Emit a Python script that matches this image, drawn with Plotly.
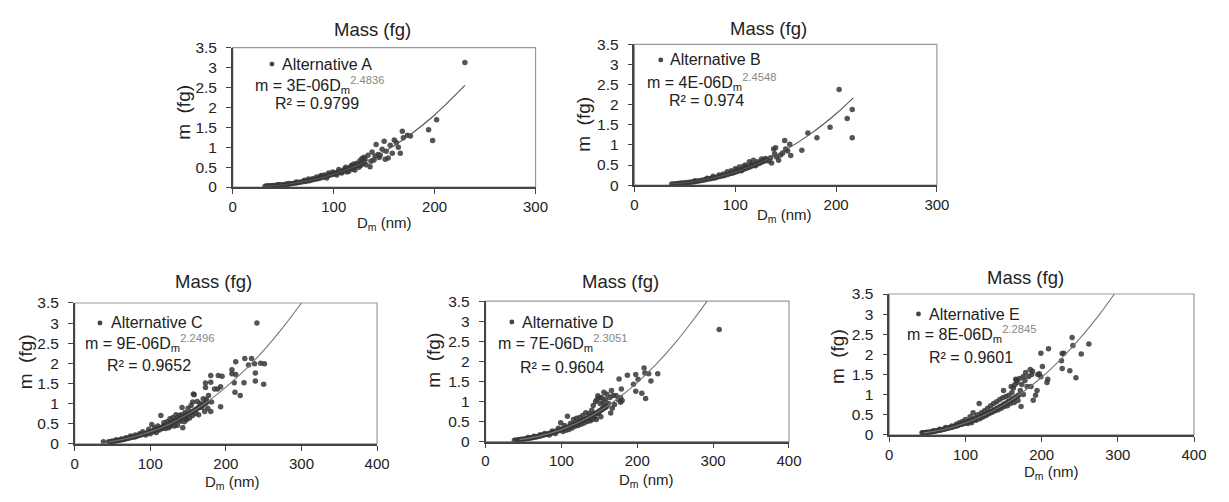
import plotly.graph_objects as go

W, H = 1229, 502
FONT = "Arial, Liberation Sans, sans-serif"

# ---------------- data ----------------
names = ["Alternative A", "Alternative B", "Alternative C", "Alternative D", "Alternative E"]
coef_text = ["3E-06", "4E-06", "9E-06", "7E-06", "8E-06"]
exp_text = ["2.4836", "2.4548", "2.2496", "2.3051", "2.2845"]
r2_text = ["0.9799", "0.974", "0.9652", "0.9604", "0.9601"]
x_max = [300, 300, 400, 400, 400]
x_ticks_A = [0, 100, 200, 300]
x_ticks_C = [0, 100, 200, 300, 400]
y_ticks = [0, 0.5, 1, 1.5, 2, 2.5, 3, 3.5]
y_tick_labels = ["0", "0.5", "1", "1.5", "2", "2.5", "3", "3.5"]

A_x = [32,34,36,38,40,42,44,46,48,50,52,54,56,58,60,62,64,66,68,70,72,74,76,78,80,82,84,86,88,90,92,94,96,98,100,102,104,106,108,110,112,114,116,118,120,122,124,126,128,130,
       45,55,63,71,75,79,83,87,88,91,93,95,97,99,101,103,105,107,108,111,112,113,115,117,118,119,120,121,123,125,126,127,128,130,131,132,134,136,137,138,140,141,142,144,145,146,148,150,151,152,154,156,158,160,162,164,166,168,169,173,176,194,198,202,230]
A_y = [0.02,0.03,0.03,0.035,0.04,0.04,0.05,0.05,0.06,0.06,0.07,0.07,0.08,0.09,0.09,0.10,0.11,0.12,0.13,0.14,0.14,0.16,0.16,0.18,0.19,0.20,0.21,0.22,0.24,0.25,0.27,0.28,0.30,0.31,0.33,0.34,0.36,0.38,0.40,0.41,0.43,0.45,0.47,0.49,0.51,0.53,0.55,0.57,0.60,0.62,
       0.06,0.09,0.13,0.17,0.20,0.21,0.25,0.28,0.29,0.30,0.23,0.35,0.33,0.38,0.36,0.30,0.44,0.40,0.35,0.46,0.50,0.38,0.40,0.52,0.55,0.45,0.58,0.43,0.60,0.50,0.66,0.55,0.72,0.75,0.70,0.56,0.80,0.51,0.65,0.88,0.68,0.78,1.07,0.82,0.74,0.80,0.95,1.15,0.70,0.90,0.73,1.05,0.85,1.18,1.12,1.00,0.85,1.40,1.24,1.30,1.28,1.44,1.17,1.69,3.13]
A_fit_x = [32,50,75,100,125,150,175,200,230]
A_fit_y = [0.020,0.058,0.158,0.324,0.563,0.883,1.30,1.81,2.55]

B_x = [37,39,41,43,45,47,49,51,53,55,57,59,61,63,65,67,69,71,73,75,77,79,81,83,85,87,89,91,93,95,97,99,101,103,105,107,109,111,113,115,117,119,121,123,125,127,129,131,
       60,72,78,84,88,92,96,98,100,102,104,106,108,110,112,114,116,118,120,122,124,126,128,130,133,135,136,138,139,140,141,143,145,147,149,150,152,154,155,166,172,181,194,203,211,216,216]
B_y = [0.03,0.03,0.035,0.04,0.045,0.05,0.055,0.06,0.065,0.07,0.08,0.085,0.09,0.10,0.11,0.12,0.13,0.14,0.15,0.16,0.17,0.18,0.19,0.21,0.22,0.23,0.24,0.26,0.27,0.29,0.30,0.32,0.33,0.35,0.37,0.38,0.40,0.42,0.44,0.46,0.48,0.50,0.52,0.54,0.56,0.58,0.60,0.63,
       0.11,0.17,0.22,0.25,0.28,0.33,0.36,0.31,0.41,0.38,0.45,0.36,0.47,0.50,0.45,0.58,0.52,0.62,0.48,0.58,0.55,0.65,0.62,0.66,0.60,0.68,0.55,0.90,0.78,0.93,0.70,0.62,0.75,0.80,1.11,0.90,0.85,1.02,0.74,0.87,1.30,1.18,1.44,2.38,1.66,1.18,1.88]
B_fit_x = [37,50,75,100,125,150,175,200,217]
B_fit_y = [0.029,0.059,0.160,0.324,0.561,0.877,1.28,1.776,2.17]

C_x = [45,47,49,51,53,55,57,59,61,63,65,67,69,71,73,75,77,79,81,83,85,87,89,91,93,95,97,99,101,103,105,107,109,111,113,115,117,119,121,123,125,127,129,131,133,135,137,139,141,143,145,147,149,151,153,155,157,159,161,163,165,167,169,171,173,175,
       38,55,62,68,74,80,86,90,94,98,100,102,104,106,108,110,112,114,116,118,120,122,124,126,128,130,132,134,136,138,
       140,142,143,146,148,150,152,154,156,158,160,162,164,166,168,170,172,174,176,173,173,177,181,180,180,185,189,180,190,193,
       195,193,208,208,213,211,213,212,219,224,225,230,234,239,239,238,241,246,250,251,157,156,148,145,135,128,118,125,132,141]
C_y = [0.05,0.05,0.06,0.06,0.07,0.07,0.08,0.09,0.10,0.10,0.11,0.12,0.13,0.14,0.15,0.16,0.17,0.17,0.18,0.19,0.21,0.22,0.23,0.24,0.25,0.26,0.28,0.29,0.30,0.32,0.33,0.34,0.36,0.37,0.39,0.40,0.42,0.44,0.45,0.47,0.49,0.51,0.53,0.54,0.56,0.58,0.60,0.62,0.64,0.66,0.68,0.70,0.73,0.75,0.77,0.79,0.81,0.84,0.86,0.89,0.91,0.94,0.96,0.99,1.01,1.04,
       0.05,0.10,0.12,0.15,0.19,0.22,0.25,0.30,0.22,0.36,0.25,0.48,0.30,0.40,0.28,0.44,0.34,0.70,0.38,0.52,0.38,0.55,0.40,0.62,0.45,0.65,0.44,0.72,0.46,0.70,
       0.56,0.90,0.40,0.78,0.60,0.88,0.64,0.95,0.70,1.22,0.76,1.05,0.72,1.00,0.90,1.12,0.80,1.10,0.88,1.40,1.51,1.20,1.04,0.80,1.53,1.36,1.36,1.70,1.70,0.92,
       1.68,1.42,1.74,1.84,2.04,1.52,1.72,1.28,1.20,1.52,2.12,1.96,2.12,1.56,1.76,1.99,3.00,2.00,1.48,1.99,1.24,1.04,0.64,0.55,0.60,0.52,0.45,0.42,0.58,0.72]
C_fit_x = [45,50,75,100,125,150,175,200,225,250,275,300]
C_fit_y = [0.049,0.062,0.155,0.296,0.488,0.737,1.04,1.41,1.83,2.32,2.88,3.5]

D_x = [40,42,44,46,48,50,52,54,56,58,60,62,64,66,68,70,72,74,76,78,80,82,84,86,88,90,92,94,96,98,100,102,104,106,108,110,112,114,116,118,120,122,124,126,128,130,132,134,136,138,140,142,144,146,148,150,152,154,156,158,160,
       38,56,64,72,78,84,88,92,96,99,102,104,106,108,110,112,114,116,118,120,122,124,126,128,130,132,134,136,138,140,
       141,142,144,145,146,147,148,149,150,151,152,153,154,155,156,157,158,160,162,164,165,166,167,168,170,172,175,176,179,178,
       187,195,198,198,201,206,209,210,211,215,218,227,308,178,180]
D_y = [0.03,0.04,0.045,0.05,0.055,0.06,0.065,0.07,0.08,0.085,0.09,0.10,0.105,0.11,0.12,0.13,0.14,0.15,0.16,0.17,0.18,0.19,0.20,0.21,0.22,0.23,0.25,0.26,0.27,0.28,0.30,0.31,0.33,0.34,0.35,0.37,0.38,0.40,0.42,0.44,0.45,0.47,0.49,0.51,0.53,0.54,0.56,0.58,0.60,0.62,0.65,0.67,0.69,0.71,0.73,0.76,0.78,0.80,0.83,0.85,0.88,
       0.03,0.10,0.13,0.17,0.20,0.16,0.26,0.20,0.33,0.47,0.25,0.40,0.28,0.63,0.30,0.45,0.34,0.55,0.38,0.58,0.40,0.60,0.43,0.65,0.46,0.72,0.50,0.70,0.52,0.78,
       0.55,0.90,0.60,1.00,0.55,1.05,1.14,0.70,1.10,0.95,0.62,1.10,0.82,1.00,1.23,0.90,1.05,1.18,0.95,1.10,0.71,1.27,0.83,1.15,0.92,1.15,1.05,1.56,1.31,0.98,
       1.65,1.43,1.67,1.25,1.55,1.20,1.83,1.71,1.07,1.69,1.51,1.69,2.79,1.10,1.02]
D_fit_x = [45,50,75,100,125,150,175,200,225,250,275,292]
D_fit_y = [0.047,0.060,0.153,0.297,0.497,0.756,1.079,1.468,1.926,2.458,3.06,3.5]

E_x = [44,46,48,50,52,54,56,58,60,62,64,66,68,70,72,74,76,78,80,82,84,86,88,90,92,94,96,98,100,102,104,106,108,110,112,114,116,118,120,122,124,126,128,130,132,134,136,138,140,142,144,146,148,150,152,154,156,158,160,162,164,166,168,170,
       43,58,66,74,82,88,92,96,100,103,106,108,110,112,114,116,118,119,121,123,125,127,129,131,133,135,137,139,141,143,
       145,147,149,150,151,153,155,157,159,160,161,163,164,165,166,167,168,169,171,172,173,174,176,178,179,181,183,185,187,188,
       189,192,194,197,199,199,201,207,208,209,226,227,227,229,237,240,241,245,252,262,186,176,195]
E_y = [0.045,0.05,0.055,0.06,0.065,0.07,0.075,0.085,0.09,0.10,0.105,0.115,0.12,0.13,0.14,0.15,0.16,0.17,0.18,0.19,0.20,0.21,0.22,0.23,0.25,0.26,0.27,0.28,0.30,0.31,0.33,0.34,0.35,0.37,0.38,0.40,0.42,0.43,0.45,0.47,0.48,0.50,0.52,0.54,0.56,0.58,0.60,0.62,0.64,0.66,0.68,0.70,0.72,0.75,0.77,0.79,0.82,0.84,0.86,0.89,0.91,0.94,0.96,0.99,
       0.05,0.10,0.14,0.18,0.22,0.26,0.30,0.33,0.38,0.28,0.45,0.30,0.55,0.42,0.36,0.50,0.78,0.40,0.55,0.44,0.60,0.48,0.66,0.52,0.72,0.56,0.78,0.60,0.82,0.62,
       0.88,0.66,0.92,1.10,0.70,0.95,0.72,0.98,0.78,1.20,1.05,1.16,0.80,1.25,1.38,1.36,1.30,0.85,1.40,1.10,0.70,1.25,1.00,1.35,1.55,1.20,1.45,1.62,1.50,1.58,
       0.86,0.98,1.10,1.52,1.44,2.03,1.70,1.30,1.38,2.14,1.84,2.02,1.65,2.03,1.59,2.42,2.22,1.42,2.01,2.26,1.20,1.45,1.50]
E_fit_x = [45,50,75,100,125,150,175,200,225,250,275,295.5]
E_fit_y = [0.0475,0.060,0.152,0.295,0.490,0.744,1.058,1.43,1.877,2.39,2.97,3.5]

# ---------------- layout geometry (pixels) ----------------
boxes = [(232, 539, 40, 184.3), (639.3, 946, 36.7, 182.3),
         (71.7, 378.3, 304.3, 450), (488.3, 796, 302.3, 447.7), (897.7, 1206.7, 295, 440.7)]
title_pos = [(374, 21), (775, 20), (212, 282), (625, 282), (1036, 278)]
xtitle_pos = [(386, 222), (791, 214), (232, 490), (652, 488), (1062, 480)]
ytitle_pos = [(182, 107), (588, 119), (22, 365), (436, 363), (845, 360)]
legend_pos = [(271.7, 57), (666, 52.7), (97.3, 325), (515, 324), (927.3, 315.7)]
legtext_x = [280, 673, 106, 523, 936]
eq_pos = [(252.7, 79), (650, 76), (80, 346), (499, 346), (913.3, 336)]
r2_pos = [(273, 98), (672.7, 95), (102.3, 369), (521, 371), (936, 360.3)]

def px(x):
    return x / W

def py(y):
    return 1 - y / H

series = [(A_x, A_y, A_fit_x, A_fit_y), (B_x, B_y, B_fit_x, B_fit_y),
          (C_x, C_y, C_fit_x, C_fit_y), (D_x, D_y, D_fit_x, D_fit_y),
          (E_x, E_y, E_fit_x, E_fit_y)]

fig = go.Figure()
layout = dict(width=W, height=H, margin=dict(l=0, r=0, t=0, b=0),
              paper_bgcolor="white", plot_bgcolor="white", showlegend=False,
              font=dict(family=FONT, color="#222"))
annotations = []
shapes = []

for i, (sx, sy, fx, fy) in enumerate(series):
    n = "" if i == 0 else str(i + 1)
    l, r, t, b = boxes[i]
    xt = x_ticks_A if x_max[i] == 300 else x_ticks_C
    layout["xaxis" + n] = dict(domain=[px(l), px(r)], range=[0, x_max[i]], anchor="y" + n,
                               tickmode="array", tickvals=xt, ticktext=[str(v) for v in xt],
                               ticks="outside", ticklen=5, tickcolor="#444", tickwidth=1.2,
                               showline=True, linecolor="#444", linewidth=1.5,
                               showgrid=False, zeroline=False,
                               tickfont=dict(size=15, family=FONT, color="#222"))
    layout["yaxis" + n] = dict(domain=[py(b), py(t)], range=[0, 3.5], anchor="x" + n,
                               tickmode="array", tickvals=y_ticks, ticktext=y_tick_labels,
                               ticks="outside", ticklen=5, tickcolor="#444", tickwidth=1.2,
                               showline=True, linecolor="#444", linewidth=1.5,
                               showgrid=False, zeroline=False, ticklabelstandoff=6,
                               tickfont=dict(size=15.5, family=FONT, color="#222"))
    xr = "x" + n
    yr = "y" + n
    fig.add_trace(go.Scatter(x=sx, y=sy, mode="markers", xaxis=xr, yaxis=yr,
                             marker=dict(size=5.5, color="rgba(55,55,55,0.85)", line=dict(width=0)),
                             name=names[i], cliponaxis=True))
    fig.add_trace(go.Scatter(x=fx, y=fy, mode="lines", xaxis=xr, yaxis=yr,
                             line=dict(color="#555" if i < 2 else "#777", width=1.1, shape="spline"),
                             hoverinfo="skip", cliponaxis=True))
    shapes.append(dict(type="rect", xref=xr + " domain", yref=yr + " domain",
                       x0=0, x1=1, y0=0, y1=1, line=dict(color="#999", width=1.2), layer="below"))
    lx, ly = legend_pos[i]
    shapes.append(dict(type="circle", xref="paper", yref="paper",
                       x0=px(lx - 2.5), x1=px(lx + 2.5), y0=py(ly + 2.5), y1=py(ly - 2.5),
                       fillcolor="#444", line=dict(width=0)))
    annotations.append(dict(text=names[i], x=px(legtext_x[i]), y=py(ly), xref="paper", yref="paper",
                            xanchor="left", yanchor="middle", showarrow=False,
                            font=dict(size=16, family=FONT, color="#222")))
    ex, ey = eq_pos[i]
    annotations.append(dict(text="m = " + coef_text[i] + "D<sub>m</sub><sup><span style='color:#888'>" + exp_text[i] + "</span></sup>",
                            x=px(ex), y=py(ey), xref="paper", yref="paper",
                            xanchor="left", yanchor="middle", showarrow=False,
                            font=dict(size=16, family=FONT, color="#222")))
    rx, ry = r2_pos[i]
    annotations.append(dict(text="R² = " + r2_text[i], x=px(rx), y=py(ry), xref="paper", yref="paper",
                            xanchor="left", yanchor="middle", showarrow=False,
                            font=dict(size=16, family=FONT, color="#222")))
    tx, ty = title_pos[i]
    annotations.append(dict(text="Mass (fg)", x=px(tx), y=py(ty), xref="paper", yref="paper",
                            xanchor="center", yanchor="middle", showarrow=False,
                            font=dict(size=18.5, family=FONT, color="#222")))
    xx, xy = xtitle_pos[i]
    annotations.append(dict(text="D<sub>m</sub> (nm)", x=px(xx), y=py(xy), xref="paper", yref="paper",
                            xanchor="center", yanchor="middle", showarrow=False,
                            font=dict(size=15, family=FONT, color="#222")))
    yx, yy = ytitle_pos[i]
    annotations.append(dict(text="m  (fg)", x=px(yx), y=py(yy), xref="paper", yref="paper",
                            xanchor="center", yanchor="middle", showarrow=False, textangle=-90,
                            font=dict(size=19, family=FONT, color="#222")))

layout["annotations"] = annotations
layout["shapes"] = shapes
fig.update_layout(**layout)
fig.write_html("out.html")
